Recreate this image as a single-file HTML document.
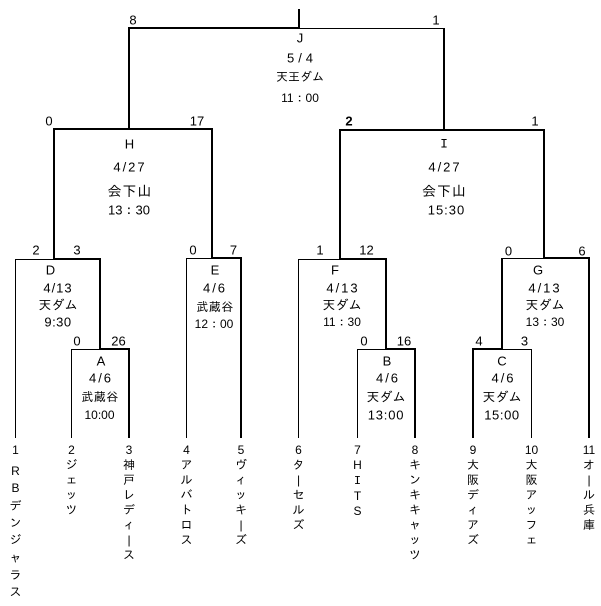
<!DOCTYPE html>
<html><head><meta charset="utf-8">
<style>
html,body{margin:0;padding:0;background:#fff;}
body{width:601px;height:606px;position:relative;overflow:hidden;}
.l{position:absolute;background:#000;}
.t{position:absolute;transform:translate(-50%,-50%);white-space:nowrap;line-height:1;font-family:"Liberation Sans","IPAGothic","Noto Sans CJK JP",sans-serif;color:#000;font-size:13px;}
.s{font-size:13px;}
.m{font-size:12px;}
.d{letter-spacing:2px;}
.tm{position:absolute;width:24px;text-align:center;font-size:12px;line-height:15px;font-family:"Liberation Sans","IPAGothic","Noto Sans CJK JP",sans-serif;color:#000;}
</style></head><body>

<!-- lines -->
<div class="l" style="left:298px;top:9px;width:2px;height:20px"></div>
<div class="l" style="left:128px;top:27px;width:172px;height:2px"></div>
<div class="l" style="left:299px;top:28px;width:146px;height:1px"></div>
<div class="l" style="left:128px;top:27px;width:2px;height:103px"></div>
<div class="l" style="left:443px;top:28px;width:2px;height:102px"></div>

<div class="l" style="left:53px;top:128px;width:160px;height:2px"></div>
<div class="l" style="left:53px;top:128px;width:2px;height:132px"></div>
<div class="l" style="left:211px;top:128px;width:2px;height:131px"></div>

<div class="l" style="left:339px;top:129px;width:206px;height:2px"></div>
<div class="l" style="left:339px;top:129px;width:2px;height:131px"></div>
<div class="l" style="left:543px;top:129px;width:2px;height:130px"></div>

<!-- D -->
<div class="l" style="left:15px;top:259px;width:40px;height:1px"></div>
<div class="l" style="left:53px;top:258px;width:48px;height:2px"></div>
<div class="l" style="left:15px;top:259px;width:1px;height:179px"></div>
<div class="l" style="left:99px;top:258px;width:2px;height:92px"></div>
<!-- A -->
<div class="l" style="left:71px;top:349px;width:30px;height:1px"></div>
<div class="l" style="left:99px;top:348px;width:31px;height:2px"></div>
<div class="l" style="left:71px;top:349px;width:1px;height:89px"></div>
<div class="l" style="left:128px;top:348px;width:2px;height:90px"></div>
<!-- E -->
<div class="l" style="left:186px;top:258px;width:27px;height:1px"></div>
<div class="l" style="left:211px;top:257px;width:31px;height:2px"></div>
<div class="l" style="left:186px;top:258px;width:1px;height:180px"></div>
<div class="l" style="left:240px;top:257px;width:2px;height:181px"></div>
<!-- F -->
<div class="l" style="left:298px;top:259px;width:42px;height:1px"></div>
<div class="l" style="left:339px;top:258px;width:48px;height:2px"></div>
<div class="l" style="left:298px;top:259px;width:1px;height:179px"></div>
<div class="l" style="left:385px;top:258px;width:2px;height:92px"></div>
<!-- B -->
<div class="l" style="left:357px;top:349px;width:30px;height:1px"></div>
<div class="l" style="left:385px;top:348px;width:31px;height:2px"></div>
<div class="l" style="left:357px;top:349px;width:1px;height:89px"></div>
<div class="l" style="left:414px;top:348px;width:2px;height:90px"></div>
<!-- G -->
<div class="l" style="left:501px;top:258px;width:44px;height:1px"></div>
<div class="l" style="left:543px;top:257px;width:47px;height:2px"></div>
<div class="l" style="left:501px;top:258px;width:2px;height:92px"></div>
<div class="l" style="left:588px;top:257px;width:2px;height:181px"></div>
<!-- C -->
<div class="l" style="left:472px;top:348px;width:31px;height:2px"></div>
<div class="l" style="left:501px;top:349px;width:31px;height:1px"></div>
<div class="l" style="left:472px;top:348px;width:2px;height:90px"></div>
<div class="l" style="left:531px;top:349px;width:1px;height:89px"></div>

<!-- scores -->
<div class="t s" style="left:133px;top:20px">8</div>
<div class="t s" style="left:436px;top:20px">1</div>
<div class="t s" style="left:49px;top:121px">0</div>
<div class="t s" style="left:197px;top:121px">17</div>
<div class="t s" style="left:349px;top:121px;font-weight:bold">2</div>
<div class="t s" style="left:535px;top:121px">1</div>
<div class="t s" style="left:36px;top:250px">2</div>
<div class="t s" style="left:77px;top:250px">3</div>
<div class="t s" style="left:193px;top:250px">0</div>
<div class="t s" style="left:233.5px;top:250px">7</div>
<div class="t s" style="left:320px;top:250px">1</div>
<div class="t s" style="left:366.5px;top:250px">12</div>
<div class="t s" style="left:508.5px;top:251px">0</div>
<div class="t s" style="left:582px;top:251px">6</div>
<div class="t s" style="left:77px;top:341px">0</div>
<div class="t s" style="left:118.5px;top:341px">26</div>
<div class="t s" style="left:364px;top:341px">0</div>
<div class="t s" style="left:404px;top:341px">16</div>
<div class="t s" style="left:479px;top:341px">4</div>
<div class="t s" style="left:524.5px;top:341px">3</div>

<!-- J -->
<div class="t" style="left:300px;top:38px">J</div>
<div class="t" style="left:302px;top:58px;letter-spacing:4px">5/4</div>
<div class="t m" style="left:300px;top:77px">天王ダム</div>
<div class="t m" style="left:300px;top:98px">11：00</div>

<!-- H -->
<div class="t" style="left:129.5px;top:143.5px">H</div>
<div class="t d" style="left:130px;top:167px">4/27</div>
<div class="t" style="left:130px;top:190.5px;font-size:14px;letter-spacing:1px">会下山</div>
<div class="t" style="left:129px;top:209.5px">13：30</div>

<!-- I -->
<div class="t" style="left:444px;top:143.5px;font-family:'Liberation Mono',monospace">I</div>
<div class="t d" style="left:445px;top:167px">4/27</div>
<div class="t" style="left:444.5px;top:190.5px;font-size:14px;letter-spacing:1px">会下山</div>
<div class="t" style="left:446.5px;top:209.5px;letter-spacing:1px">15:30</div>

<!-- D -->
<div class="t" style="left:50.5px;top:269.5px">D</div>
<div class="t" style="left:58px;top:288px;letter-spacing:1px">4/13</div>
<div class="t" style="left:58px;top:305px">天ダム</div>
<div class="t" style="left:58px;top:322px;letter-spacing:0.5px">9:30</div>

<!-- A -->
<div class="t" style="left:101px;top:361px">A</div>
<div class="t d" style="left:101px;top:378px">4/6</div>
<div class="t m" style="left:100px;top:397px;letter-spacing:0.5px">武蔵谷</div>
<div class="t m" style="left:99.5px;top:414.5px">10:00</div>

<!-- E -->
<div class="t" style="left:215px;top:269.5px">E</div>
<div class="t d" style="left:215px;top:287.5px">4/6</div>
<div class="t m" style="left:215px;top:307px;letter-spacing:0.5px">武蔵谷</div>
<div class="t m" style="left:214px;top:323.5px">12：00</div>

<!-- F -->
<div class="t" style="left:335px;top:269.5px">F</div>
<div class="t d" style="left:343px;top:288px">4/13</div>
<div class="t" style="left:342px;top:305px">天ダム</div>
<div class="t m" style="left:342px;top:322px">11：30</div>

<!-- B -->
<div class="t" style="left:387px;top:361px">B</div>
<div class="t d" style="left:388px;top:378px">4/6</div>
<div class="t" style="left:386px;top:397px">天ダム</div>
<div class="t" style="left:386px;top:414.5px;letter-spacing:0.8px">13:00</div>

<!-- G -->
<div class="t" style="left:538px;top:269.5px">G</div>
<div class="t d" style="left:545px;top:288px">4/13</div>
<div class="t" style="left:545px;top:305px">天ダム</div>
<div class="t m" style="left:545px;top:322px">13：30</div>

<!-- C -->
<div class="t" style="left:502px;top:361px">C</div>
<div class="t d" style="left:503.5px;top:378px">4/6</div>
<div class="t" style="left:502px;top:397px">天ダム</div>
<div class="t" style="left:502px;top:414.5px;letter-spacing:0.6px">15:00</div>

<!-- teams -->
<div class="tm" style="left:3.5px;top:443px">1</div>
<div class="tm" style="left:3.5px;top:463px;line-height:17.35px">R<br>B<br>デ<br>ン<br>ジ<br>ャ<br>ラ<br>ス</div>
<div class="tm" style="left:59.5px;top:443px">2<br>ジ<br>ェ<br>ッ<br>ツ</div>
<div class="tm" style="left:117px;top:443px">3<br>神<br>戸<br>レ<br>デ<br>ィ<br>|<br>ス</div>
<div class="tm" style="left:174.5px;top:443px">4<br>ア<br>ル<br>バ<br>ト<br>ロ<br>ス</div>
<div class="tm" style="left:229px;top:443px">5<br>ヴ<br>ィ<br>ッ<br>キ<br>|<br>ズ</div>
<div class="tm" style="left:286.5px;top:443px">6<br>タ<br>|<br>セ<br>ル<br>ズ</div>
<div class="tm" style="left:345.5px;top:443px">7<br>H<br><span style="font-family:'Liberation Mono',monospace">I</span><br>T<br>S</div>
<div class="tm" style="left:403px;top:443px">8<br>キ<br>ン<br>キ<br>キ<br>ャ<br>ッ<br>ツ</div>
<div class="tm" style="left:461px;top:443px">9<br>大<br>阪<br>デ<br>ィ<br>ア<br>ズ</div>
<div class="tm" style="left:519.5px;top:443px">10<br>大<br>阪<br>ア<br>ッ<br>フ<br>ェ</div>
<div class="tm" style="left:577px;top:443px">11<br>オ<br>|<br>ル<br>兵<br>庫</div>

</body></html>
